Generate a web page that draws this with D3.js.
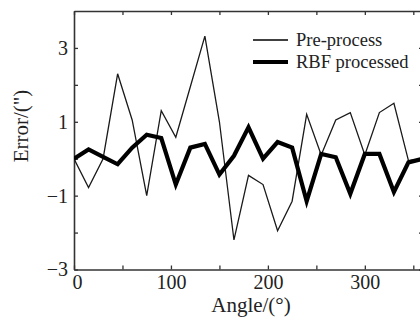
<!DOCTYPE html>
<html>
<head>
<meta charset="utf-8">
<script src="https://cdn.jsdelivr.net/npm/d3@7"></script>
<style>
  html, body { margin: 0; padding: 0; background: #fff; }
  svg { display: block; }
  text { font-family: "Liberation Serif", "Times New Roman", serif; fill: #222; }
</style>
</head>
<body>
<svg id="chart" width="420" height="320"></svg>
<script>
// ---- data ----
const angles = [0, 15, 30, 45, 60, 75, 90, 105, 120, 135, 150, 165, 180, 195, 210, 225, 240, 255, 270, 285, 300, 315, 330, 345, 360];
const preProcess = [0, -0.78, 0, 2.3, 1.05, -1.0, 1.3, 0.58, 1.95, 3.32, 1.0, -2.2, -0.45, -0.7, -1.95, -1.15, 1.2, 0.1, 1.05, 1.25, 0.1, 1.25, 1.5, -0.05, 0];
const rbfProcessed = [0, 0.25, 0.05, -0.15, 0.3, 0.65, 0.56, -0.7, 0.3, 0.4, -0.43, 0.08, 0.85, 0, 0.45, 0.3, -1.15, 0.13, 0.04, -0.95, 0.13, 0.13, -0.9, -0.1, 0];
const seriesNames = ["Pre-process", "RBF processed"];
const xTicks = [0, 50, 100, 150, 200, 250, 300, 350];
const xTickLabels = [0, 100, 200, 300];
const yTicks = [-3, -2, -1, 0, 1, 2, 3];
const yTickLabels = [-3, -1, 1, 3];

// ---- layout ----
const svg = d3.select("#chart");
svg.append("rect").attr("width", 420).attr("height", 320).attr("fill", "#fff");

const L = 74, R = 423, T = 11, B = 269.5;
const x = d3.scaleLinear().domain([0, 360]).range([L, R]);
const y = d3.scaleLinear().domain([-3, 4]).range([B, T]);

const axisColor = "#333";
function styleAxis(g) {
  g.selectAll("path.domain").attr("stroke", axisColor).attr("stroke-width", 1.6);
  g.selectAll(".tick line").attr("stroke", axisColor).attr("stroke-width", 1.3);
  g.selectAll(".tick text")
    .attr("font-family", "Liberation Serif, serif")
    .attr("fill", "#222");
}

const minus = v => (v < 0 ? "\u2212" + Math.abs(v) : String(v));

// bottom axis
const gB = svg.append("g").attr("transform", `translate(0,${B})`)
  .call(d3.axisBottom(x).tickValues(xTicks).tickSizeInner(-4).tickSizeOuter(0).tickPadding(5)
    .tickFormat(d => xTickLabels.includes(d) ? String(d) : ""));
styleAxis(gB);
gB.selectAll(".tick text").attr("font-size", 20);
gB.selectAll(".tick").filter(d => d === 0).select("text").attr("dx", 3);

// top axis
const gT = svg.append("g").attr("transform", `translate(0,${T})`)
  .call(d3.axisTop(x).tickValues(xTicks).tickSizeInner(-4).tickSizeOuter(0).tickFormat(""));
styleAxis(gT);

// left axis
const gL = svg.append("g").attr("transform", `translate(${L},0)`)
  .call(d3.axisLeft(y).tickValues(yTicks).tickSizeInner(-4).tickSizeOuter(0).tickPadding(6)
    .tickFormat(d => yTickLabels.includes(d) ? minus(d) : ""));
styleAxis(gL);
gL.selectAll(".tick text").attr("font-size", 20);

// right axis
const gR = svg.append("g").attr("transform", `translate(${R},0)`)
  .call(d3.axisRight(y).tickValues(yTicks).tickSizeInner(-4).tickSizeOuter(0).tickFormat(""));
styleAxis(gR);

// clip
svg.append("clipPath").attr("id", "clip").append("rect")
  .attr("x", L).attr("y", T).attr("width", R - L).attr("height", B - T);

const line = d3.line().x(d => x(d[0])).y(d => y(d[1]));

const plot = svg.append("g").attr("clip-path", "url(#clip)");
plot.append("path")
  .datum(angles.map((a, i) => [a, preProcess[i]]))
  .attr("d", line).attr("fill", "none").attr("stroke", "#1a1a1a")
  .attr("stroke-width", 1.3).attr("stroke-linejoin", "miter");
plot.append("path")
  .datum(angles.map((a, i) => [a, rbfProcessed[i]]))
  .attr("d", line).attr("fill", "none").attr("stroke", "#000")
  .attr("stroke-width", 4.2).attr("stroke-linejoin", "miter");

// legend
const legend = svg.append("g");
const legendItems = [
  { name: seriesNames[0], w: 1.3, ly: 40 },
  { name: seriesNames[1], w: 4.2, ly: 62 }
];
legendItems.forEach(it => {
  legend.append("line").attr("x1", 253).attr("x2", 288).attr("y1", it.ly).attr("y2", it.ly)
    .attr("stroke", "#000").attr("stroke-width", it.w);
  legend.append("text").attr("x", 296).attr("y", it.ly + 6)
    .attr("font-size", 18.5).text(it.name);
});

// axis titles
svg.append("text").attr("x", 251).attr("y", 312).attr("text-anchor", "middle")
  .attr("font-size", 21).text("Angle/(\u00b0)");
svg.append("text").attr("transform", "translate(28,126) rotate(-90)")
  .attr("text-anchor", "middle").attr("font-size", 21).text("Error/(\")");
</script>
</body>
</html>
